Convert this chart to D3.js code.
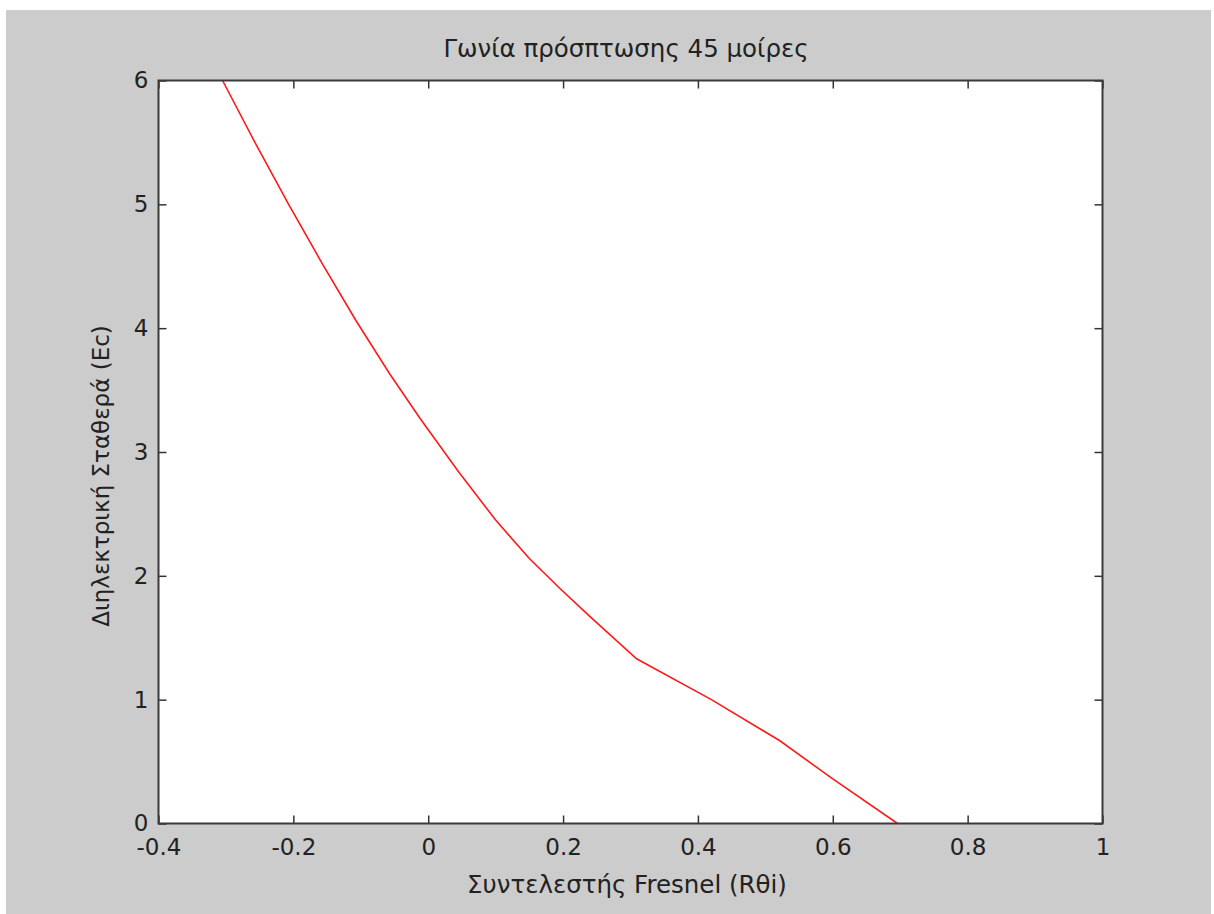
<!DOCTYPE html>
<html><head><meta charset="utf-8">
<script src="https://cdn.jsdelivr.net/npm/d3@7"></script>
<style>html,body{margin:0;padding:0;background:#fff;}svg{display:block;font-family:"DejaVu Sans",Arial,sans-serif;}</style>
</head><body>
<svg id="c" width="1214" height="914"></svg>
<script>
const titleText = "Γωνία πρόσπτωσης 45 μοίρες";
const xLabelText = "Συντελεστής Fresnel (Rθi)";
const yLabelText = "Διηλεκτρική Σταθερά (Ec)";
const xTicks = [-0.4, -0.2, 0, 0.2, 0.4, 0.6, 0.8, 1];
const yTicks = [0, 1, 2, 3, 4, 5, 6];
const fresnel = [-0.305, -0.256, -0.207, -0.157, -0.107, -0.057, -0.012, 0.045, 0.10, 0.15, 0.195, 0.24, 0.309, 0.42, 0.521, 0.60, 0.696];
const ec      = [6.0, 5.49, 5.0, 4.52, 4.06, 3.63, 3.27, 2.84, 2.45, 2.14, 1.90, 1.67, 1.33, 1.0, 0.67, 0.36, 0.0];

const svg = d3.select("#c");
svg.append("rect").attr("x",6).attr("y",10).attr("width",1205).attr("height",904).attr("fill","#cccccc");
const L=158.5, R=1102.5, T=80.5, B=823.5;
const x = d3.scaleLinear().domain([-0.4,1]).range([L,R]);
const y = d3.scaleLinear().domain([0,6]).range([B,T]);
svg.append("rect").attr("x",L).attr("y",T).attr("width",R-L).attr("height",B-T).attr("fill","#fff");

const fmt = d => String(d);
const tl = 8;
const FS = 23;
const g = svg.append("g");
// bottom axis
g.append("g").attr("transform",`translate(0,${B})`)
 .call(d3.axisBottom(x).tickValues(xTicks).tickSize(-tl).tickPadding(15).tickFormat(fmt))
 .call(a=>{a.select(".domain").remove();a.selectAll("line").attr("stroke","#333").attr("stroke-width",1.5);
   a.selectAll("text").attr("font-size",FS).attr("fill","#222").attr("font-family","DejaVu Sans");});
// top ticks
g.append("g").attr("transform",`translate(0,${T})`)
 .call(d3.axisTop(x).tickValues(xTicks).tickSize(-tl).tickFormat(""))
 .call(a=>{a.select(".domain").remove();a.selectAll("line").attr("stroke","#333").attr("stroke-width",1.5);});
// left axis
g.append("g").attr("transform",`translate(${L},0)`)
 .call(d3.axisLeft(y).tickValues(yTicks).tickSize(-tl).tickPadding(10).tickFormat(fmt))
 .call(a=>{a.select(".domain").remove();a.selectAll("line").attr("stroke","#333").attr("stroke-width",1.5);
   a.selectAll("text").attr("font-size",FS).attr("fill","#222").attr("font-family","DejaVu Sans");});
// right ticks
g.append("g").attr("transform",`translate(${R},0)`)
 .call(d3.axisRight(y).tickValues(yTicks).tickSize(-tl).tickFormat(""))
 .call(a=>{a.select(".domain").remove();a.selectAll("line").attr("stroke","#333").attr("stroke-width",1.5);});

// data line
const pts = fresnel.map((v,i)=>[v,ec[i]]);
svg.append("path").datum(pts)
  .attr("d", d3.line().x(d=>x(d[0])).y(d=>y(d[1])))
  .attr("fill","none").attr("stroke","#ff1a1a").attr("stroke-width",1.6);

// box
svg.append("rect").attr("x",L).attr("y",T).attr("width",R-L).attr("height",B-T)
  .attr("fill","none").attr("stroke","#3a3a3a").attr("stroke-width",2);

// texts
svg.append("text").attr("x",626).attr("y",57).attr("text-anchor","middle")
  .attr("font-size",24.5).attr("fill","#222").text(titleText);
svg.append("text").attr("x",627).attr("y",893).attr("text-anchor","middle")
  .attr("font-size",24.5).attr("fill","#222").text(xLabelText);
svg.append("text").attr("transform",`translate(109,476) rotate(-90)`).attr("text-anchor","middle")
  .attr("font-size",FS).attr("fill","#222").text(yLabelText);
</script>
</body></html>
